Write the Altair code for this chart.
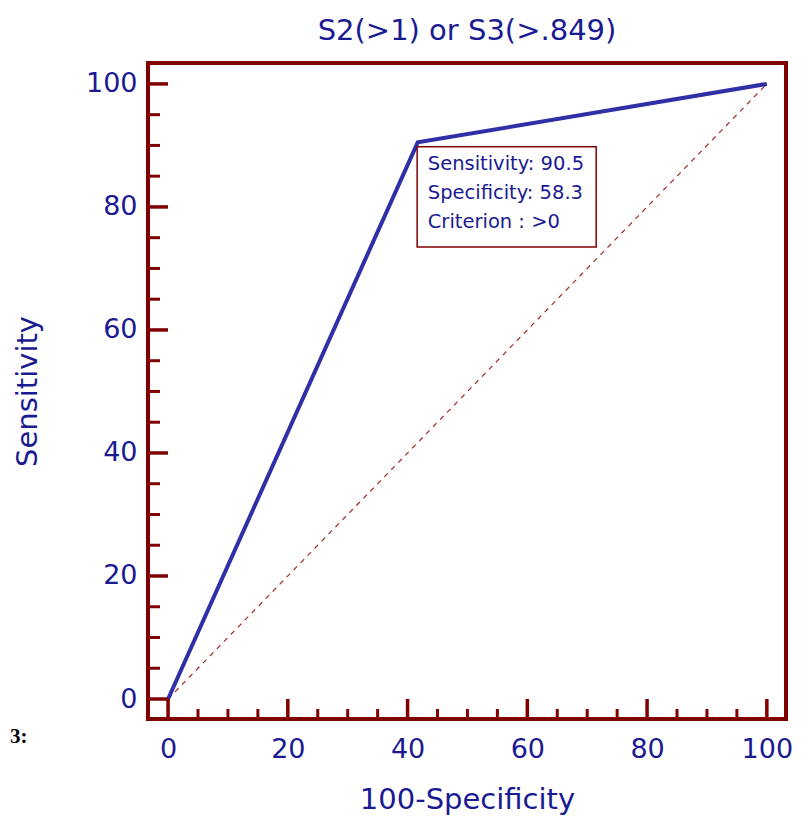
import altair as alt
import pandas as pd

# ROC curve points (100-Specificity, Sensitivity)
fpr = [0, 41.7, 100]
sens = [0, 90.5, 100]

# chance diagonal
diag_x = [0, 100]
diag_y = [0, 100]

# axis ticks
major_ticks = [0, 20, 40, 60, 80, 100]
minor_ticks = [5, 10, 15, 25, 30, 35, 45, 50, 55, 65, 70, 75, 85, 90, 95]

# operating point summary
sens_value = 90.5
spec_value = 58.3
criterion = ">0"

title_text = "S2(>1) or S3(>.849)"
x_title = "100-Specificity"
y_title = "Sensitivity"
panel_tag = "3:"

W, H = 638, 656
MAROON = "#800000"
NAVY = "#1a1a92"
LINE_BLUE = "#3030a6"
FONT = "DejaVu Sans"

xs = alt.Scale(domain=[-3.35, 103.2], nice=False, zero=False)
ys = alt.Scale(domain=[-3.25, 103.4], nice=False, zero=False)

x_axis = alt.Axis(values=major_ticks, ticks=False, domain=False, grid=False,
                  labelFont=FONT, labelFontSize=27, labelColor=NAVY, labelPadding=17,
                  title=x_title, titleFont=FONT, titleFontSize=29, titleColor=NAVY,
                  titleFontWeight="normal", titleX=319, titleY=89,
                  titleBaseline="alphabetic", titleAlign="center")
y_axis = alt.Axis(values=major_ticks, ticks=False, domain=False, grid=False,
                  labelFont=FONT, labelFontSize=27, labelColor=NAVY, labelPadding=11,
                  title=y_title, titleFont=FONT, titleFontSize=29, titleColor=NAVY,
                  titleFontWeight="normal", titleX=-121, titleY=328, titleAngle=270,
                  titleBaseline="middle", titleAlign="center")

roc_df = pd.DataFrame({"fpr": fpr, "sens": sens})
diag_df = pd.DataFrame({"fpr": diag_x, "sens": diag_y})
major_df = pd.DataFrame({"t": major_ticks})
minor_df = pd.DataFrame({"t": minor_ticks})

vx = 100 - spec_value
vy = sens_value
point_df = pd.DataFrame({"fpr": [vx], "sens": [vy]})
box_df = pd.DataFrame({"x1": [vx - 0.1], "x2": [vx + 29.8],
                       "y1": [vy - 0.7], "y2": [vy - 17.0]})

base_x = alt.X("fpr:Q", scale=xs, axis=x_axis)
base_y = alt.Y("sens:Q", scale=ys, axis=y_axis)

diag = alt.Chart(diag_df).mark_line(color="#a02a2a", strokeWidth=1.2,
                                    strokeDash=[5, 5]).encode(x=base_x, y=base_y)

roc = alt.Chart(roc_df).mark_line(color=LINE_BLUE, strokeWidth=4).encode(
    x=alt.X("fpr:Q", scale=xs), y=alt.Y("sens:Q", scale=ys))

box = alt.Chart(box_df).mark_rect(fill="white", stroke=MAROON, strokeWidth=1.5).encode(
    x=alt.X("x1:Q", scale=xs), x2="x2:Q",
    y=alt.Y("y1:Q", scale=ys), y2="y2:Q")

label = alt.Chart(point_df).mark_text(
    text=[f"Sensitivity: {sens_value}", f"Specificity: {spec_value}",
          f"Criterion : {criterion}"],
    align="left", baseline="top", dx=10, dy=13, lineHeight=29,
    font=FONT, fontSize=19.5, color=NAVY).encode(
    x=alt.X("fpr:Q", scale=xs), y=alt.Y("sens:Q", scale=ys))

# inward ticks on the bottom edge
xmaj = alt.Chart(major_df).mark_rule(color=MAROON, strokeWidth=3.5).encode(
    x=alt.X("t:Q", scale=xs), y=alt.value(H), y2=alt.value(H - 20))
xmin = alt.Chart(minor_df).mark_rule(color=MAROON, strokeWidth=3).encode(
    x=alt.X("t:Q", scale=xs), y=alt.value(H), y2=alt.value(H - 10))
# inward ticks on the left edge
ymaj = alt.Chart(major_df).mark_rule(color=MAROON, strokeWidth=3.5).encode(
    y=alt.Y("t:Q", scale=ys), x=alt.value(0), x2=alt.value(20))
ymin = alt.Chart(minor_df).mark_rule(color=MAROON, strokeWidth=3).encode(
    y=alt.Y("t:Q", scale=ys), x=alt.value(0), x2=alt.value(12))

tag = alt.Chart(pd.DataFrame({"t": [panel_tag]})).mark_text(
    align="left", baseline="middle", font="Liberation Serif", fontSize=21,
    fontWeight="bold", color="black").encode(
    text="t:N", x=alt.value(-138), y=alt.value(674))

chart = alt.layer(diag, roc, box, label, xmaj, xmin, ymaj, ymin, tag).properties(
    width=W, height=H,
    title=alt.TitleParams(title_text, font=FONT, fontSize=29, color=NAVY,
                          fontWeight="normal", anchor="middle", offset=17),
    autosize=alt.AutoSizeParams(type="none"),
    padding={"left": 148, "top": 63, "right": 15, "bottom": 102},
).configure(background="white").configure_view(stroke=MAROON, strokeWidth=4)

chart.save("out.html", embed_options={"renderer": "svg", "actions": False})
